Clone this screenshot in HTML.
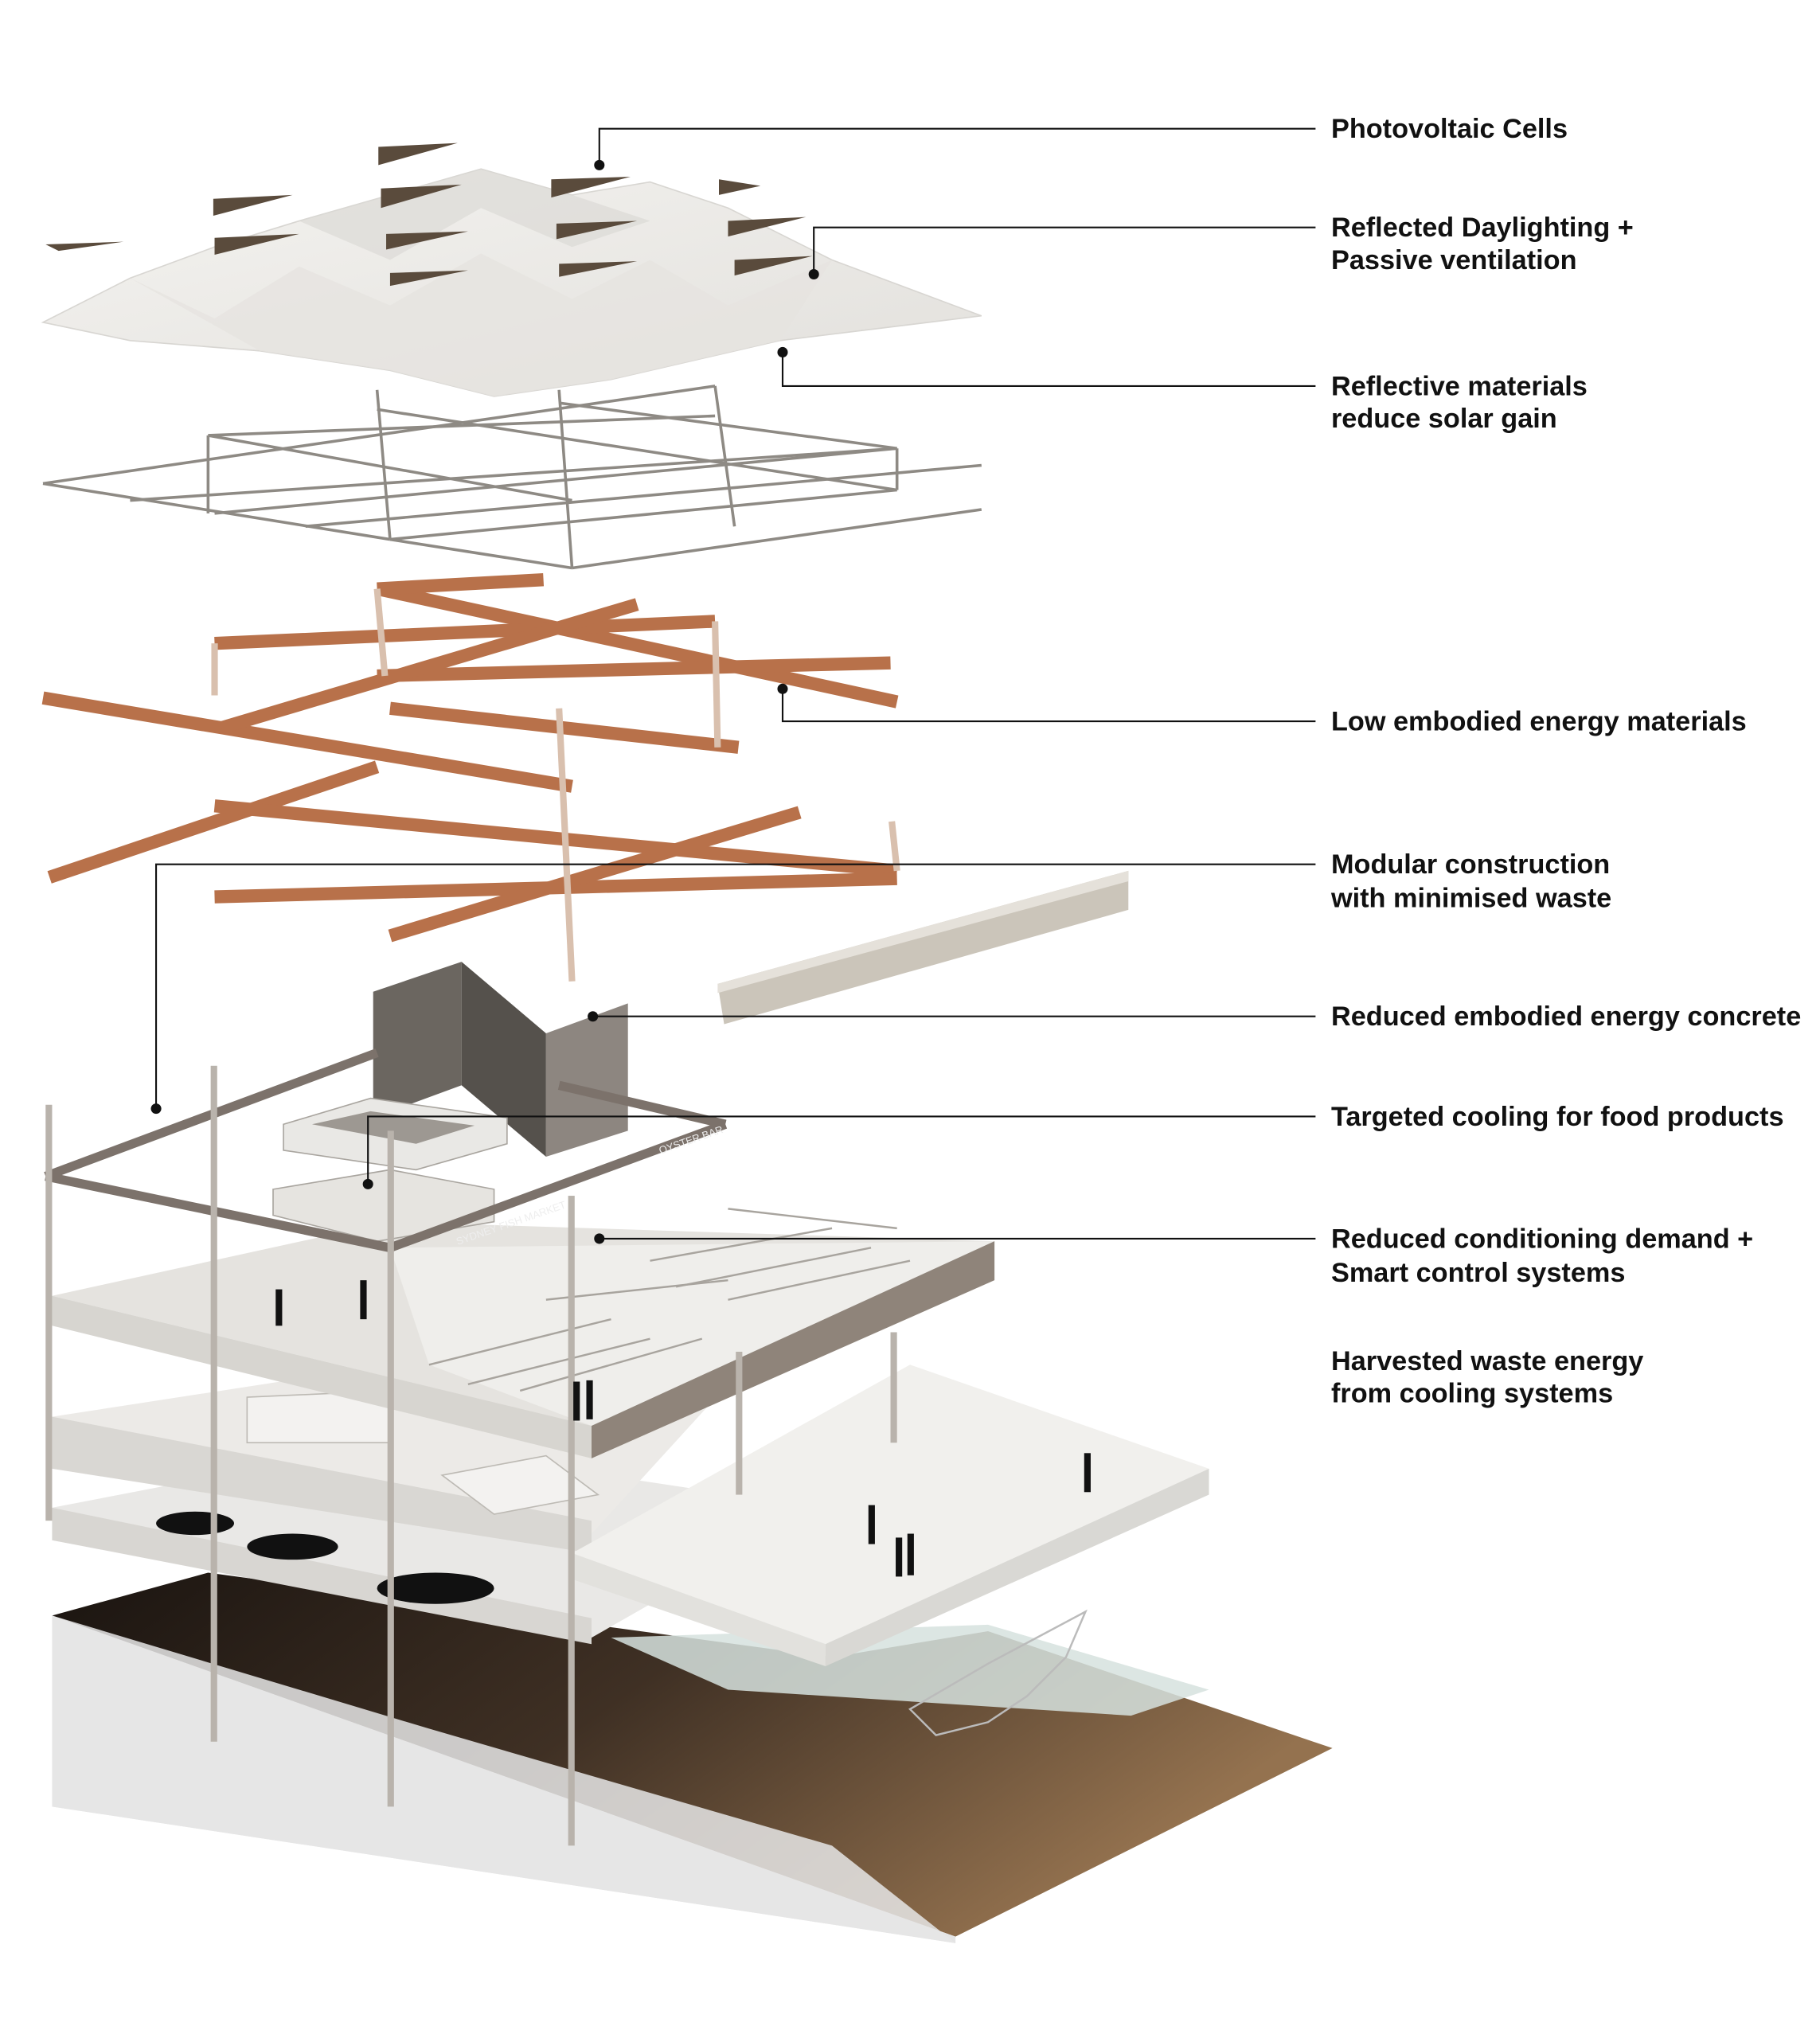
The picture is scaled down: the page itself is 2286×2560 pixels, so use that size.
<!DOCTYPE html>
<html><head><meta charset="utf-8"><style>
html,body{margin:0;padding:0;background:#fff;}
svg{display:block;}
text{font-family:"Liberation Sans",Arial,sans-serif;font-weight:bold;font-size:21px;fill:#111;}
</style></head><body>
<svg width="2286" height="2560" viewBox="0 0 1400 1568" xmlns="http://www.w3.org/2000/svg">
<defs>
<linearGradient id="ground" x1="0" y1="0" x2="1" y2="0.4">
<stop offset="0" stop-color="#1a1410"/><stop offset="0.5" stop-color="#3f3024"/><stop offset="1" stop-color="#94724f"/></linearGradient>
<linearGradient id="roof" x1="0" y1="0" x2="1" y2="1">
<stop offset="0" stop-color="#f4f3f0"/><stop offset="1" stop-color="#e2e0dc"/></linearGradient>
</defs>
<rect width="1400" height="1568" fill="#fff"/>

<!-- ROOF -->
<polygon points="33,248 100,214 165,190 230,170 300,150 370,130 440,150 500,140 560,160 640,200 755,243 600,262 470,292 380,305 300,285 200,270 100,262" fill="url(#roof)" stroke="#d8d6d2" stroke-width="1"/>
<polygon points="100,214 165,245 230,205 300,235 370,195 440,230 500,200 560,235 640,200 600,262 470,292 380,305 300,285 200,270" fill="#e6e4e0" opacity="0.8"/>
<polygon points="230,170 300,200 370,160 440,190 500,170 440,150 370,130 300,150" fill="#dcdad5" opacity="0.7"/>
<g fill="#5a4b3c">
<polygon points="164,153 225,150 164,166"/>
<polygon points="291,113 352,110 291,127"/>
<polygon points="293,145 355,142 293,160"/>
<polygon points="424,138 485,136 424,152"/>
<polygon points="553,138 585,143 553,150"/>
<polygon points="35,188 95,186 45,193"/>
<polygon points="165,183 230,180 165,196"/>
<polygon points="297,180 360,178 297,192"/>
<polygon points="428,172 490,170 428,184"/>
<polygon points="560,170 620,167 560,182"/>
<polygon points="300,210 360,208 300,220"/>
<polygon points="565,200 625,197 565,212"/>
<polygon points="430,203 490,201 430,213"/>
</g>

<!-- GRID -->
<g stroke="#8e8a84" stroke-width="2.2" fill="none">
<line x1="33" y1="372" x2="550" y2="297"/>
<line x1="100" y1="385" x2="690" y2="345"/>
<line x1="165" y1="395" x2="690" y2="345"/>
<line x1="235" y1="405" x2="755" y2="358"/>
<line x1="300" y1="415" x2="690" y2="377"/>
<line x1="440" y1="437" x2="755" y2="392"/>
<line x1="160" y1="335" x2="550" y2="320"/>
<line x1="33" y1="372" x2="300" y2="415"/>
<line x1="160" y1="335" x2="440" y2="385"/>
<line x1="290" y1="315" x2="690" y2="377"/>
<line x1="430" y1="310" x2="690" y2="345"/>
<line x1="300" y1="415" x2="440" y2="437"/>
<line x1="160" y1="335" x2="160" y2="395"/>
<line x1="290" y1="300" x2="300" y2="415"/>
<line x1="430" y1="300" x2="440" y2="437"/>
<line x1="550" y1="297" x2="565" y2="405"/>
<line x1="690" y1="345" x2="690" y2="377"/>
</g>

<!-- TIMBER -->
<g stroke="#b8714a" stroke-width="10" stroke-linecap="butt" fill="none">
<line x1="290" y1="453" x2="690" y2="540"/>
<line x1="165" y1="495" x2="550" y2="478"/>
<line x1="290" y1="453" x2="418" y2="446"/>
<line x1="33" y1="537" x2="440" y2="605"/>
<line x1="290" y1="520" x2="685" y2="510"/>
<line x1="170" y1="560" x2="490" y2="465"/>
<line x1="300" y1="545" x2="568" y2="575"/>
<line x1="38" y1="675" x2="290" y2="590"/>
<line x1="165" y1="620" x2="690" y2="670"/>
<line x1="165" y1="690" x2="690" y2="676"/>
<line x1="300" y1="720" x2="615" y2="625"/>
</g>
<g stroke="#d9c0ae" stroke-width="5" fill="none">
<line x1="165" y1="495" x2="165" y2="535"/>
<line x1="290" y1="453" x2="296" y2="520"/>
<line x1="550" y1="478" x2="552" y2="575"/>
<line x1="430" y1="545" x2="440" y2="755"/>
<line x1="686" y1="632" x2="690" y2="670"/>
</g>

<!-- CONCRETE BAR -->
<polygon points="552,757 868,670 868,700 557,788" fill="#cbc5ba"/>
<polygon points="552,757 868,670 868,678 552,764" fill="#e5e1da"/>

<!-- GROUND -->
<polygon points="40,1243 160,1210 640,1275 760,1255 1025,1345 735,1490" fill="url(#ground)"/>
<polygon points="40,1243 735,1490 735,1495 40,1390" fill="#e4e4e4"/>
<polygon points="40,1243 40,1390 735,1495 640,1420 330,1330" fill="#e6e6e6" opacity="0.85"/>
<polygon points="470,1260 760,1250 930,1300 870,1320 560,1300" fill="#d6e2de" opacity="0.85"/>

<!-- LOWER FLOOR (parking) -->
<polygon points="40,1160 300,1110 630,1160 455,1260 40,1185" fill="#e9e8e6"/>
<polygon points="40,1160 455,1245 455,1265 40,1185" fill="#d8d6d2"/>
<ellipse cx="150" cy="1172" rx="30" ry="9" fill="#111"/>
<ellipse cx="225" cy="1190" rx="35" ry="10" fill="#111"/>
<ellipse cx="335" cy="1222" rx="45" ry="12" fill="#111"/>

<!-- MID FLOOR -->
<polygon points="40,1090 300,1050 560,1065 455,1180 40,1115" fill="#eceae7"/>
<polygon points="40,1090 455,1170 455,1195 40,1130" fill="#d9d7d3"/>
<polygon points="190,1075 300,1070 300,1110 190,1110" fill="#f3f2f0" stroke="#bdbab4"/>
<polygon points="340,1135 420,1120 460,1150 380,1165" fill="#f3f2f0" stroke="#bdbab4"/>

<!-- PLAZA -->
<polygon points="440,1195 700,1050 930,1130 635,1265" fill="#f1f0ed"/>
<polygon points="635,1265 930,1130 930,1150 635,1282" fill="#d9d8d4"/>
<polygon points="440,1195 635,1265 635,1282 440,1215" fill="#e2e1dd"/>

<!-- TOP FLOOR -->
<polygon points="40,997 300,940 765,955 455,1097" fill="#e5e3df"/>
<polygon points="300,960 765,955 455,1097 330,1050" fill="#efeeeb"/>
<polygon points="455,1097 765,955 765,985 455,1122" fill="#8f847a"/>
<polygon points="40,997 455,1097 455,1122 40,1020" fill="#d7d5d0"/>
<g stroke="#a8a49e" stroke-width="1.5">
<line x1="330" y1="1050" x2="470" y2="1015"/><line x1="360" y1="1065" x2="500" y2="1030"/>
<line x1="400" y1="1070" x2="540" y2="1030"/><line x1="500" y1="970" x2="640" y2="945"/>
<line x1="520" y1="990" x2="670" y2="960"/><line x1="560" y1="1000" x2="700" y2="970"/>
<line x1="420" y1="1000" x2="560" y2="985"/><line x1="560" y1="930" x2="690" y2="945"/>
</g>
<!-- walls -->
<polygon points="287,763 355,740 355,835 287,860" fill="#6b6660"/>
<polygon points="355,740 420,795 420,890 355,835" fill="#55514c"/>
<polygon points="420,795 483,772 483,870 420,890" fill="#8d8680"/>
<!-- cooling box -->
<polygon points="218,865 285,845 390,860 390,880 320,900 218,885" fill="#e9e8e5" stroke="#a9a59f"/>
<polygon points="240,865 285,855 365,866 320,880" fill="#9d9892"/>
<polygon points="210,915 300,900 380,915 380,940 290,955 210,935" fill="#e6e4e0" stroke="#a9a59f"/>
<!-- beams -->
<g stroke="#7c726b" stroke-width="7" fill="none">
<line x1="35" y1="905" x2="300" y2="960"/><line x1="300" y1="960" x2="558" y2="865"/>
<line x1="35" y1="905" x2="290" y2="810"/><line x1="430" y1="835" x2="558" y2="865"/>
</g>
<text x="352" y="958" transform="rotate(-19 352 958)" style="font-size:8px;font-weight:normal;fill:#eee">SYDNEY FISH MARKET</text>
<text x="508" y="888" transform="rotate(-19 508 888)" style="font-size:8px;font-weight:normal;fill:#eee">OYSTER BAR</text>
<!-- columns -->
<g fill="#b9b3ac">
<rect x="35" y="850" width="5" height="320"/>
<rect x="162" y="820" width="5" height="520"/>
<rect x="298" y="870" width="5" height="520"/>
<rect x="437" y="920" width="5" height="500"/>
<rect x="566" y="1040" width="5" height="110"/>
<rect x="685" y="1025" width="5" height="85"/>
</g>
<!-- people -->
<g fill="#111">
<rect x="212" y="992" width="5" height="28"/><rect x="277" y="985" width="5" height="30"/>
<rect x="441" y="1063" width="5" height="30"/><rect x="451" y="1062" width="5" height="30"/>
<rect x="834" y="1118" width="5" height="30"/><rect x="668" y="1158" width="5" height="30"/>
<rect x="689" y="1183" width="5" height="30"/><rect x="698" y="1180" width="5" height="32"/>
</g>
<path d="M700,1315 L760,1280 L835,1240 L820,1275 L790,1305 L760,1325 L720,1335 Z" fill="none" stroke="#bbb" stroke-width="1.5"/>

<!-- LEADERS -->
<g stroke="#111" stroke-width="1.3" fill="none">
<polyline points="461,127 461,99 1012,99"/>
<polyline points="626,211 626,175 1012,175"/>
<polyline points="602,271 602,297 1012,297"/>
<polyline points="602,530 602,555 1012,555"/>
<polyline points="120,853 120,665 1012,665"/>
<polyline points="456,782 1012,782"/>
<polyline points="283,911 283,859 1012,859"/>
<polyline points="461,953 1012,953"/>
</g>
<g fill="#111">
<circle cx="461" cy="127" r="4"/><circle cx="626" cy="211" r="4"/>
<circle cx="602" cy="271" r="4"/><circle cx="602" cy="530" r="4"/>
<circle cx="120" cy="853" r="4"/><circle cx="456" cy="782" r="4"/>
<circle cx="283" cy="911" r="4"/><circle cx="461" cy="953" r="4"/>
</g>

<!-- LABELS -->
<text x="1024" y="106">Photovoltaic Cells</text>
<text x="1024" y="182">Reflected Daylighting +</text>
<text x="1024" y="207">Passive ventilation</text>
<text x="1024" y="304">Reflective materials</text>
<text x="1024" y="329">reduce solar gain</text>
<text x="1024" y="562">Low embodied energy materials</text>
<text x="1024" y="672">Modular construction</text>
<text x="1024" y="698">with minimised waste</text>
<text x="1024" y="789">Reduced embodied energy concrete</text>
<text x="1024" y="866">Targeted cooling for food products</text>
<text x="1024" y="960">Reduced conditioning demand +</text>
<text x="1024" y="986">Smart control systems</text>
<text x="1024" y="1054">Harvested waste energy</text>
<text x="1024" y="1079">from cooling systems</text>
</svg>
</body></html>
